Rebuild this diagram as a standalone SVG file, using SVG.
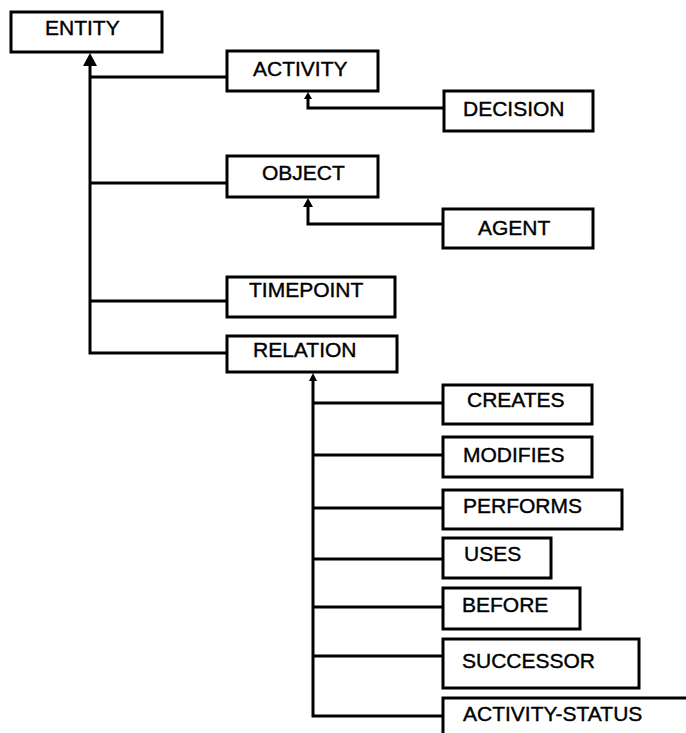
<svg xmlns="http://www.w3.org/2000/svg" width="686" height="733" viewBox="0 0 686 733">
<style>
.box{fill:#fff;stroke:#000;stroke-width:3}
.lbl{font-family:"Liberation Sans",Arial,sans-serif;font-size:21px;fill:#000;stroke:#000;stroke-width:0.4}
.ln{fill:none;stroke:#000;stroke-width:3}
.ah{fill:#000}
</style>
<rect width="686" height="733" fill="#fff"/>
<g id="connectors">
<path class="ln" d="M90,60 V353 H227 M90,77 H227 M90,183 H227 M90,301 H227"/>
<polygon class="ah" points="90,53 83,66 97,66"/>
<path class="ln" d="M443,108 H308 V96"/>
<polygon class="ah" points="308,92 304,99 312,99"/>
<path class="ln" d="M443,224 H308 V203"/>
<polygon class="ah" points="308,198 303,207 313,207"/>
<path class="ln" d="M313,378 V716 H443 M313,403 H443 M313,455 H443 M313,508 H443 M313,559 H443 M313,607 H443 M313,656 H443"/>
<polygon class="ah" points="313,373 309,381 317,381"/>
</g>
<g id="entity"><rect class="box" x="11" y="12" width="151" height="40"/><text class="lbl" x="45" y="35">ENTITY</text></g>
<g id="activity"><rect class="box" x="227" y="51" width="151" height="40"/><text class="lbl" x="253" y="76">ACTIVITY</text></g>
<g id="decision"><rect class="box" x="444" y="91" width="149" height="40"/><text class="lbl" x="463" y="116">DECISION</text></g>
<g id="object"><rect class="box" x="227" y="156" width="151" height="41"/><text class="lbl" x="262" y="180">OBJECT</text></g>
<g id="agent"><rect class="box" x="443" y="209" width="150" height="39"/><text class="lbl" x="478" y="235">AGENT</text></g>
<g id="timepoint"><rect class="box" x="227" y="277" width="168" height="40"/><text class="lbl" x="249" y="297">TIMEPOINT</text></g>
<g id="relation"><rect class="box" x="227" y="336" width="170" height="36"/><text class="lbl" x="253" y="357">RELATION</text></g>
<g id="creates"><rect class="box" x="443" y="385" width="149" height="39"/><text class="lbl" x="467" y="407">CREATES</text></g>
<g id="modifies"><rect class="box" x="443" y="437" width="149" height="40"/><text class="lbl" x="463" y="462">MODIFIES</text></g>
<g id="performs"><rect class="box" x="443" y="490" width="179" height="39"/><text class="lbl" x="463" y="513">PERFORMS</text></g>
<g id="uses"><rect class="box" x="443" y="538" width="108" height="40"/><text class="lbl" x="464" y="561">USES</text></g>
<g id="before"><rect class="box" x="443" y="588" width="137" height="41"/><text class="lbl" x="462" y="612">BEFORE</text></g>
<g id="successor"><rect class="box" x="443" y="639" width="196" height="49"/><text class="lbl" x="462" y="668">SUCCESSOR</text></g>
<g id="activity-status"><rect class="box" x="443" y="698" width="260" height="60"/><text class="lbl" x="463" y="721">ACTIVITY-STATUS</text></g>
</svg>
